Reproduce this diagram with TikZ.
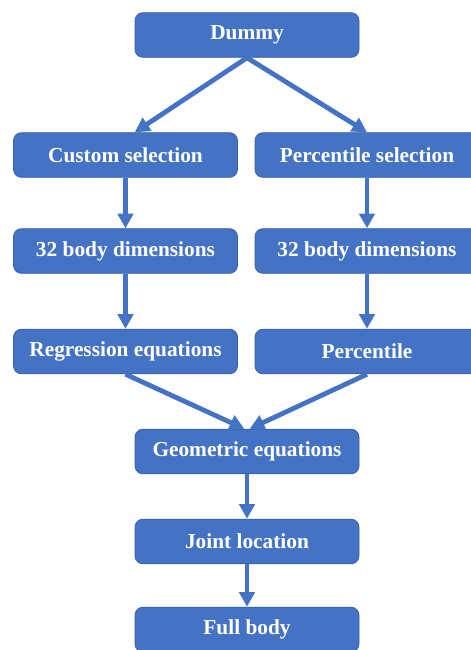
\documentclass[tikz,border=0pt]{standalone}
\usepackage{fontspec}
\setmainfont{Liberation Serif}
\usetikzlibrary{arrows.meta}
\definecolor{boxblue}{HTML}{4472C4}
\definecolor{edgeblue}{HTML}{2F528F}
\begin{document}
\begin{tikzpicture}[x=0.75pt, y=-0.75pt,
    font=\fontsize{16}{19}\selectfont\bfseries,
    box/.style={draw=edgeblue!60!boxblue, line width=0.6pt, rounded corners=6pt, fill=boxblue,
        text=white, minimum width=168pt, minimum height=33.5pt, inner sep=2pt},
    link/.style={draw=boxblue, line width=3.6pt, -{Triangle[length=11pt, width=11.5pt]}}]

\useasboundingbox (0,0) rectangle (471,650);

\node[box] (dummy) at (247,35) {Dummy};

\node[box] (custom) at (125.5,155) {Custom selection};

\node[box] (pctsel) at (367,155) {Percentile selection};

\node[box] (dimsl) at (125.5,251) {32 body dimensions};

\node[box] (dimsr) at (367,251) {32 body dimensions};

\node[box] (regr) at (125.5,351.5) {Regression equations};

\node[box] (pct) at (367,351.5) {Percentile};

\node[box] (geom) at (247,451.5) {Geometric equations};

\node[box] (joint) at (247,541.5) {Joint location};

\node[box] (body) at (247,629.5) {Full body};

\draw[link] (dummy.south) -- ([xshift=7pt]custom.north);
\draw[link] (dummy.south) -- (pctsel.north);
\draw[link] (custom) -- (dimsl);
\draw[link] (pctsel) -- (dimsr);
\draw[link] (dimsl) -- (regr);
\draw[link] (dimsr) -- (pct);
\draw[link] (regr.south) -- ([xshift=-2pt]geom.north);
\draw[link] (pct.south) -- ([xshift=2pt]geom.north);
\draw[link] (geom) -- (joint);
\draw[link] (joint) -- (body);

\end{tikzpicture}
\end{document}
